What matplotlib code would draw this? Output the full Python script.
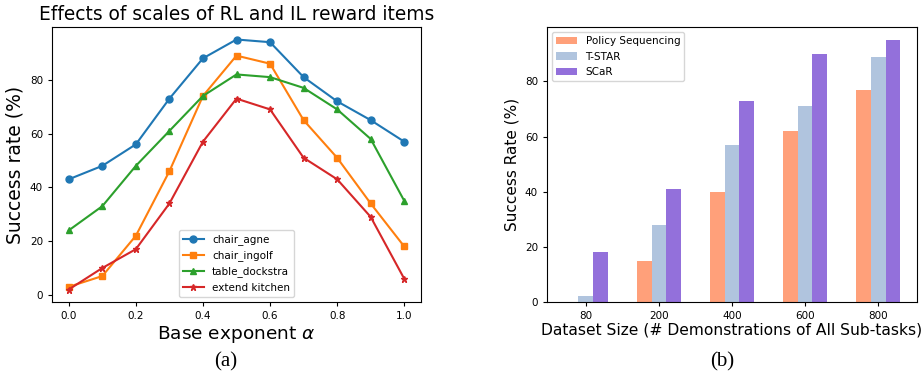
import matplotlib
matplotlib.use("Agg")
import matplotlib.pyplot as plt
import numpy as np

alpha = [0.0, 0.1, 0.2, 0.3, 0.4, 0.5, 0.6, 0.7, 0.8, 0.9, 1.0]
chair_agne = [43, 48, 56, 73, 88, 95, 94, 81, 72, 65, 57]
chair_ingolf = [3, 7, 22, 46, 74, 89, 86, 65, 51, 34, 18]
table_dockstra = [24, 33, 48, 61, 74, 82, 81, 77, 69, 58, 35]
extend_kitchen = [2, 10, 17, 34, 57, 73, 69, 51, 43, 29, 6]

sizes = ["80", "200", "400", "600", "800"]
policy_seq = [0, 15, 40, 62, 77]
tstar = [2, 28, 57, 71, 89]
scar = [18, 41, 73, 90, 95]

W, H = 924, 375
fig = plt.figure(figsize=(W / 100, H / 100), dpi=100)

def px_axes(x0, y0, x1, y1):
    return fig.add_axes([x0 / W, (H - y1) / H, (x1 - x0) / W, (y1 - y0) / H])

tick_fs = 7.5

# (a)
ax1 = px_axes(52, 27, 421, 302)
ax1.plot(alpha, chair_agne, marker='o', ms=5, color='#1f77b4', label='chair_agne')
ax1.plot(alpha, chair_ingolf, marker='s', ms=5, color='#ff7f0e', label='chair_ingolf')
ax1.plot(alpha, table_dockstra, marker='^', ms=5, color='#2ca02c', label='table_dockstra')
ax1.plot(alpha, extend_kitchen, marker='*', ms=5, color='#d62728', label='extend kitchen')
ax1.set_xticks([0.0, 0.2, 0.4, 0.6, 0.8, 1.0])
ax1.set_yticks([0, 20, 40, 60, 80])
ax1.tick_params(labelsize=tick_fs, length=3)
ax1.set_title('Effects of scales of RL and IL reward items', fontsize=13.4, pad=5)
ax1.set_xlabel(r'Base exponent $\alpha$', fontsize=13.3, labelpad=2)
ax1.set_ylabel('Success rate (%)', fontsize=13.5, labelpad=4)
ax1.legend(loc='lower center', fontsize=7.5, handlelength=2.0)

# (b)
ax2 = px_axes(547, 27, 917, 302)
x = np.arange(len(sizes))
w = 0.2
ax2.bar(x - w, policy_seq, w, color='#FFA07A', label='Policy Sequencing')
ax2.bar(x, tstar, w, color='#B0C4DE', label='T-STAR')
ax2.bar(x + w, scar, w, color='#9370DB', label='SCaR')
ax2.set_xticks(x)
ax2.set_xticklabels(sizes)
ax2.set_yticks([0, 20, 40, 60, 80])
ax2.tick_params(labelsize=tick_fs, length=3)
ax2.set_xlabel('Dataset Size (# Demonstrations of All Sub-tasks)', fontsize=11.2, labelpad=1)
ax2.set_ylabel('Success Rate (%)', fontsize=11, labelpad=4)
ax2.legend(loc='upper left', fontsize=7.5)

fig.text(226 / W, 1 - 362 / H, '(a)', fontsize=15, family='Liberation Serif', ha='center', va='center')
fig.text(722 / W, 1 - 362 / H, '(b)', fontsize=15, family='Liberation Serif', ha='center', va='center')

fig.savefig('out.png', dpi=100)
